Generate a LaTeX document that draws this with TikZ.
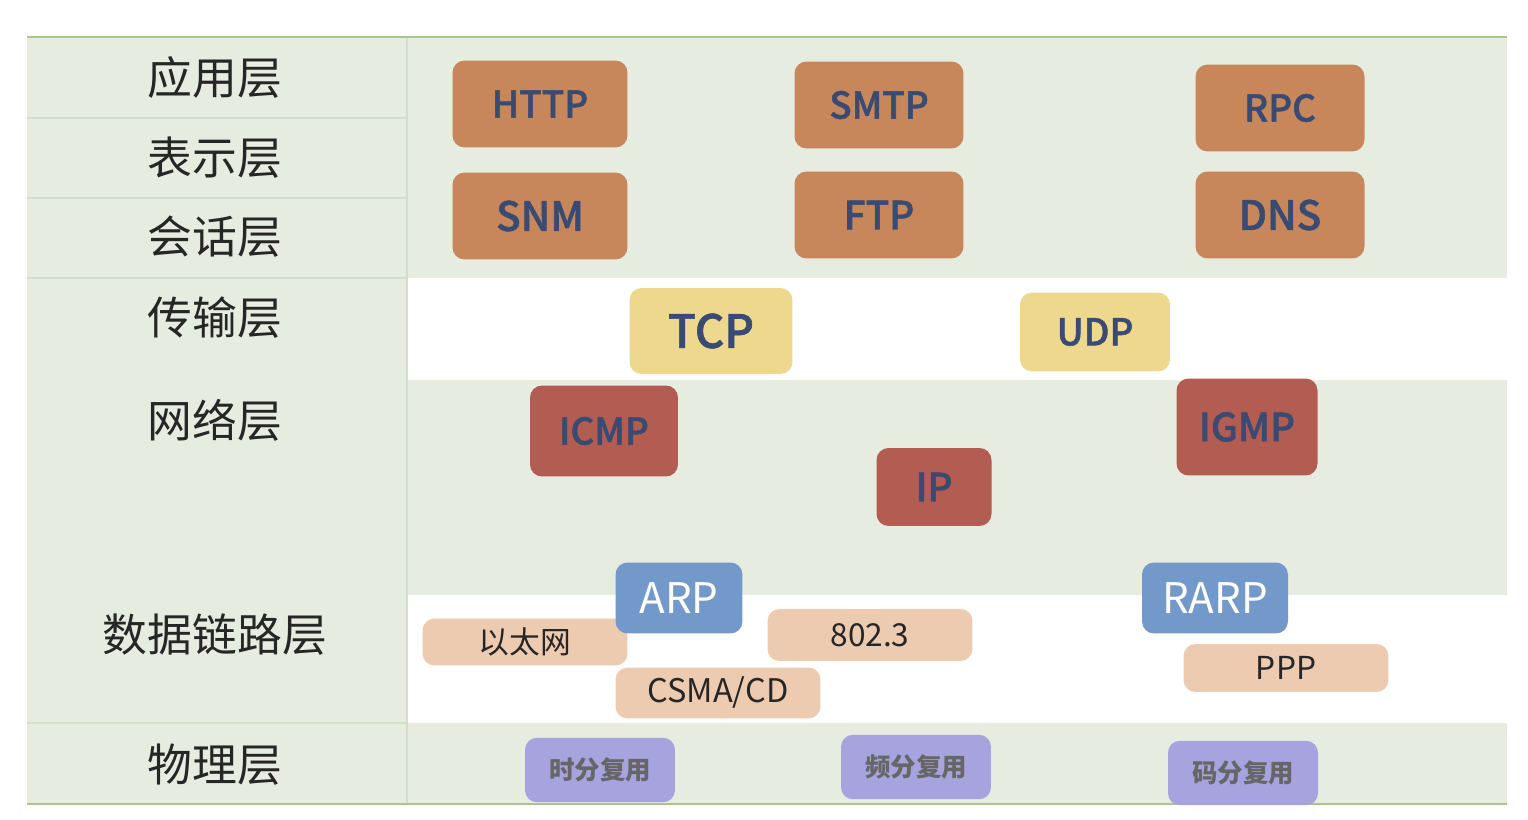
\documentclass[tikz,border=0pt]{standalone}
\usepackage{fontspec}
\setmainfont{Noto Sans CJK SC}
\newfontfamily\medfont[FakeBold=1.4]{Noto Sans CJK SC Medium}
\usepackage{xcolor}

\definecolor{bgGreen}{HTML}{E6ECDF}
\definecolor{edgeGreen}{HTML}{A9C48F}
\definecolor{rowGreen}{HTML}{D3DEC6}
\definecolor{appOrange}{HTML}{C8875A}
\definecolor{tcpYellow}{HTML}{EDD88E}
\definecolor{ipRed}{HTML}{B35C51}
\definecolor{arpBlue}{HTML}{7399CB}
\definecolor{macPeach}{HTML}{EDCBB1}
\definecolor{phyPurple}{HTML}{A6A3DE}
\definecolor{protoBlue}{HTML}{394B72}

\newcommand{\fs}[1]{\fontsize{#1}{#1}\selectfont}

\begin{document}
\begin{tikzpicture}[x=0.02cm, y=-0.02cm,
    box/.style={rounded corners=0.24cm, align=center, inner sep=0pt},
    app/.style={box, fill=appOrange, text=protoBlue, font=\medfont\fs{21},
                minimum width=3.38cm, minimum height=1.74cm},
    trans/.style={box, fill=tcpYellow, text=protoBlue, font=\medfont\fs{21}},
    net/.style={box, fill=ipRed, text=protoBlue, font=\medfont\fs{21}},
    arp/.style={box, fill=arpBlue, text=white, font=\fs{24}, minimum height=1.42cm},
    mac/.style={box, fill=macPeach, text=black!85, font=\fs{18}, minimum width=4.1cm},
    phy/.style={box, fill=phyPurple, text=black!60, font=\bfseries\fs{14.5},
                minimum width=3cm, minimum height=1.29cm},
    layer/.style={text=black!85, font=\fs{25.5}},
    rowline/.style={draw=rowGreen, line width=0.6pt}]
      \useasboundingbox (0,0) rectangle (1528,820);

      % table background
      \fill[bgGreen] (27,37) rectangle (407,804);
      \fill[bgGreen] (407,37) rectangle (1507,278);
      \fill[bgGreen] (407,380) rectangle (1507,595);
      \fill[bgGreen] (407,723) rectangle (1507,804);
      \draw[rowline] (27,118) -- (407,118) (27,198) -- (407,198)
                     (27,278) -- (407,278) (27,723) -- (407,723)
                     (407,37) -- (407,804);
      \draw[edgeGreen, line width=1.6pt] (27,37) -- (1507,37);
      \draw[edgeGreen, line width=1.6pt] (27,804) -- (1507,804);

      % layer names
      \node[layer] (L7) at (215,78) {应用层};
      \node[layer] (L6) at (215,158) {表示层};
      \node[layer] (L5) at (215,237) {会话层};
      \node[layer] (L4) at (215,318) {传输层};
      \node[layer] (L3) at (215,420) {网络层};
      \node[layer] (L2) at (215,635) {数据链路层};
      \node[layer] (L1) at (215,765) {物理层};

      % application
      \node[app, minimum width=3.5cm] (HTTP) at (540,104) {HTTP};
      \node[app] (SMTP) at (879,105) {SMTP};
      \node[app] (RPC) at (1280,108) {RPC};
      \node[app, minimum width=3.5cm, font=\medfont\fs{23}] (SNM) at (540,216) {SNM};
      \node[app, font=\medfont\fs{22}] (FTP) at (879,215) {FTP};
      \node[app, font=\medfont\fs{23}] (DNS) at (1280,215) {DNS};

      % transport
      \node[trans, minimum width=3.26cm, minimum height=1.72cm, font=\medfont\fs{26}] (TCP) at (711,331) {TCP};
      \node[trans, minimum width=3cm, minimum height=1.58cm] (UDP) at (1095,332) {UDP};

      % network
      \node[net, minimum width=2.96cm, minimum height=1.82cm] (ICMP) at (604,431) {ICMP};
      \node[net, minimum width=2.3cm, minimum height=1.56cm, font=\medfont\fs{22}] (IP) at (934,487) {IP};
      \node[net, minimum width=2.82cm, minimum height=1.94cm, font=\medfont\fs{22}] (IGMP) at (1247,427) {IGMP};

      % data link
      \node[mac, minimum height=0.94cm, font=\fs{17.5}] (ETH) at (525,642) {以太网};
      \node[mac, minimum height=1.04cm] (IEEE) at (870,635) {802.3};
      \node[mac, minimum height=1.02cm, font=\fs{18.5}] (CSMA) at (718,693) {CSMA/CD};
      \node[mac, minimum height=0.96cm] (PPP) at (1286,668) {PPP};
      \node[arp, minimum width=2.54cm] (ARP) at (679,598) {ARP};
      \node[arp, minimum width=2.92cm] (RARP) at (1215,598) {RARP};

      % physical
      \node[phy] (TDM) at (600,770) {时分复用};
      \node[phy] (FDM) at (916,767) {频分复用};
      \node[phy] (CDM) at (1243,773) {码分复用};

    \end{tikzpicture}
\end{document}
